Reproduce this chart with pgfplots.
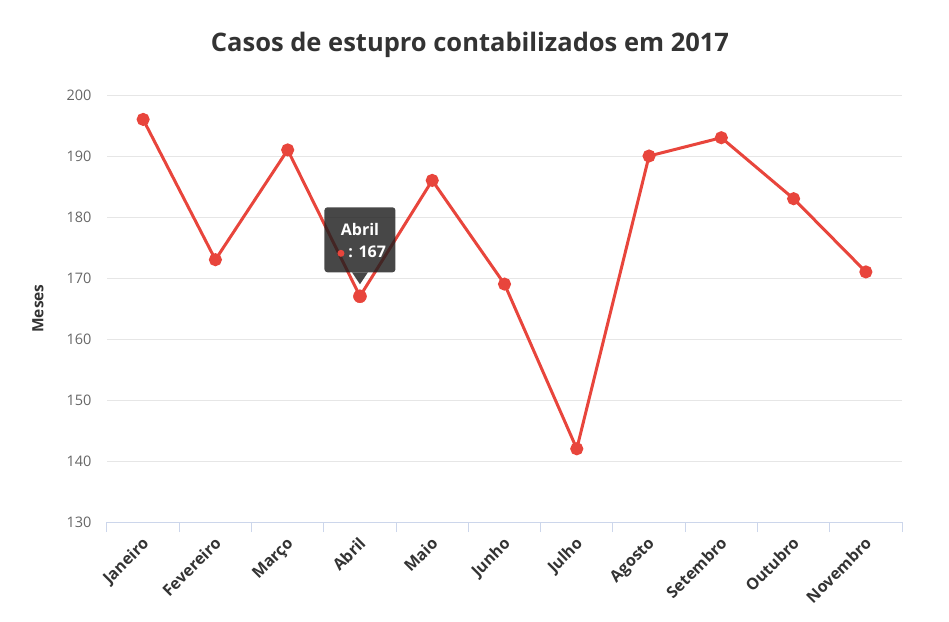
\documentclass[border=0pt]{standalone}
\usepackage{pgfplots}
\pgfplotsset{compat=1.18}
\usepackage{fontspec}
\setmainfont{Open Sans}
\definecolor{linered}{HTML}{E8453C}
\definecolor{axiscol}{HTML}{CCD6EB}
\definecolor{gridcol}{HTML}{E6E6E6}
\definecolor{labgray}{HTML}{666666}
\definecolor{darktxt}{HTML}{333333}
\definecolor{tipbg}{HTML}{1F1F1F}
\begin{document}
\begin{tikzpicture}[x=1pt,y=1pt]
\useasboundingbox (-107pt,-99pt) rectangle (842pt,522pt);
\begin{axis}[
  at={(0pt,0pt)}, anchor=south west,
  scale only axis, width=795pt, height=427pt,
  xmin=-0.5, xmax=10.5, ymin=130, ymax=200,
  xtick={0,...,10},
  xticklabels={Janeiro,Fevereiro,Março,Abril,Maio,Junho,Julho,Agosto,Setembro,Outubro,Novembro},
  minor xtick={-0.5,0.5,...,10.5},
  ytick={130,140,...,200},
  separate axis lines,
  axis x line*=bottom, axis y line*=left,
  y axis line style={draw=none},
  x axis line style={draw=axiscol, line width=1pt},
  tick align=outside,
  major tick length=0pt,
  minor tick length=10pt,
  minor x tick style={draw=axiscol, line width=1pt},
  major tick style={draw=none},
  ymajorgrids, grid style={draw=gridcol, line width=1pt},
  /pgf/number format/assume math mode=true,
  yticklabel style={font=\fontsize{14.5}{16}\selectfont, text=labgray, xshift=-12pt},
  xticklabel style={font=\fontsize{16}{18}\selectfont\bfseries, text=darktxt, inner sep=0pt, anchor=north east, xshift=-2pt, yshift=-14pt, rotate=45},
  ylabel={Meses},
  ylabel style={font=\fontsize{15.5}{17}\selectfont\bfseries, text=darktxt, at={(axis description cs:-0.0868,0.5)}, anchor=center},
  clip=false,
]
\addplot[color=linered, line width=3pt, mark=*, mark size=5pt, mark options={fill=linered, draw=none}] coordinates {
(0,196) (1,173) (2,191) (3,167) (4,186) (5,169) (6,142) (7,190) (8,193) (9,183) (10,171)
};
\addplot[color=linered, only marks, mark=*, mark size=6.5pt, mark options={fill=linered, draw=none}] coordinates {(3,167)};
\fill[tipbg, opacity=0.82, rounded corners=3pt] ([xshift=-35.5pt,yshift=24pt]axis cs:3,167) rectangle ([xshift=35.5pt,yshift=89pt]axis cs:3,167);
\fill[tipbg, opacity=0.82] ([xshift=-8pt,yshift=24pt]axis cs:3,167) -- ([xshift=8pt,yshift=24pt]axis cs:3,167) -- ([yshift=12pt]axis cs:3,167) -- cycle;
\node[text=white, font=\fontsize{16}{18}\selectfont\bfseries] at ([yshift=67pt]axis cs:3,167) {Abril};
\fill[linered] ([xshift=-19pt,yshift=43pt]axis cs:3,167) circle (3.5pt);
\node[text=white, font=\fontsize{16}{18}\selectfont\bfseries, anchor=west] at ([xshift=-15pt,yshift=44pt]axis cs:3,167) {: 167};
\end{axis}
\node[font=\fontsize{25.5}{30}\selectfont\bfseries, text=darktxt] at (363pt,477pt) {Casos de estupro contabilizados em 2017};
\end{tikzpicture}
\end{document}
